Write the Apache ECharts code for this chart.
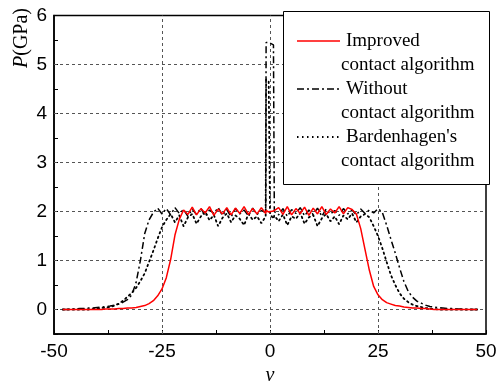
<!DOCTYPE html>
<html>
<head>
<meta charset="utf-8">
<script src="https://cdn.jsdelivr.net/npm/echarts@6/dist/echarts.min.js"></script>
<style>html,body{margin:0;padding:0;background:#fff}#c{width:496px;height:381px}</style>
</head>
<body>
<div id="c"></div>
<script>
// shared positions along v
const X = [-48,-47,-46,-45,-44,-43,-42,-41,-40,-39,-38,-37,-36,-35,-34,-33,-32,-31,
  -30,-29,-28,-27,-26,-25,-24,-23,-22,-21,-20,
  -19,-18,-17,-16,-15,-14,-13,-12,-11,-10,-9,-8,-7,-6,-5,-4,-3,-2,
  -1,-0.9,-0.3,0,0.8,1,
  2,3,4,5,6,7,8,9,10,11,12,13,14,15,16,17,18,19,
  20,21,22,23,24,25,26,27,28,29,30,31,32,33,34,35,36,37,
  38,39,40,41,42,43,44,45,46,47,48];

const improved = [0,0,0,0,0,0,0,0,0,0,0.01,0.01,0.01,0.02,0.02,0.03,0.03,0.04,
  0.06,0.08,0.12,0.18,0.28,0.42,0.65,1.02,1.52,1.84,2.03,
  1.94,2.09,1.93,2.06,1.97,2.1,1.92,2.05,1.95,2.08,1.93,2.07,1.96,2.1,1.94,2.06,1.95,2.08,
  1.96,2.02,1.99,2.0,2.01,1.97,
  2.08,1.94,2.1,1.93,2.06,1.96,2.09,1.92,2.07,1.95,2.1,1.94,2.05,1.97,2.1,1.95,2.08,2.04,
  1.95,1.65,1.22,0.8,0.47,0.3,0.2,0.14,0.11,0.08,0.07,0.05,0.04,0.03,0.03,0.02,0.02,0.01,
  0,0,0,0,0,0,0,0,0,0,0];

const without = [0,0,0.01,0.01,0.02,0.02,0.03,0.03,0.04,0.05,0.06,0.07,0.09,0.11,0.15,0.2,0.3,0.55,
  1.0,1.55,1.83,1.98,2.07,1.95,2.06,1.93,2.08,1.96,2.04,
  1.9,2.05,1.94,2.07,1.9,2.03,1.96,2.08,1.92,2.04,1.89,2.06,1.95,2.03,1.91,2.07,1.94,2.02,
  1.98,5.45,5.45,5.42,5.4,2.0,
  1.93,2.06,1.9,2.04,1.96,2.08,1.91,2.03,1.94,2.07,1.9,2.05,1.95,2.02,1.92,2.06,1.95,2.03,
  1.93,2.05,1.96,2.03,1.97,2.06,1.98,1.72,1.43,1.15,0.85,0.57,0.37,0.25,0.17,0.13,0.09,0.06,
  0.05,0.04,0.03,0.02,0.02,0.01,0.01,0,0,0,0];

const bardenhagen = [0,0,0,0,0,0,0,0.01,0.02,0.03,0.04,0.05,0.08,0.12,0.18,0.26,0.34,0.44,
  0.58,0.74,0.97,1.2,1.45,1.68,1.83,1.95,1.78,1.92,1.7,
  1.88,1.95,1.75,1.9,2.0,1.82,1.93,1.7,1.87,1.96,1.78,1.92,1.85,1.72,1.95,1.83,1.9,1.76,
  1.9,4.7,4.65,1.95,1.85,1.92,
  1.8,1.94,1.72,1.9,1.85,1.97,1.75,1.88,1.93,1.7,1.86,1.95,1.8,1.9,1.74,1.92,1.84,1.96,
  1.78,1.9,1.95,1.88,1.7,1.5,1.25,0.97,0.7,0.5,0.33,0.22,0.15,0.1,0.07,0.05,0.03,0.02,
  0.01,0,0,0,0,0,0,0,0,0,0];

const xTickLabels = [-50,-25,0,25,50];
const yTickLabels = [0,1,2,3,4,5,6];
const gridY = [0,1,2,3,4,5];
const gridX = [-25,0,25];
const legendLines = [['Improved','contact algorithm'],['Without','contact algorithm'],["Bardenhagen's",'contact algorithm']];

function pairs(ys){ return X.map((x,i)=>[x, ys[i]]); }

const chart = echarts.init(document.getElementById('c'), null, {renderer:'canvas'});
const sans = 'Liberation Sans';
const serif = 'Liberation Serif';

const markData = gridY.map(v=>({yAxis:v})).concat(gridX.map(v=>({xAxis:v})));
const LZ = 100;
function legText(x, y, t){
  return {type:'text',x:x,y:y,z:LZ+2,style:{text:t,font:'19px '+serif,fill:'#000',verticalAlign:'middle'}};
}

chart.setOption({
  animation:false,
  backgroundColor:'#fff',
  grid:{left:54,right:10,top:15.5,bottom:47,containLabel:false,outerBoundsMode:'none',
    show:true,borderColor:'#000',borderWidth:1.5,backgroundColor:'transparent'},
  xAxis:{type:'value',min:-50,max:50,interval:12.5,
    name:'v',nameLocation:'middle',nameGap:30,
    nameTextStyle:{fontFamily:serif,fontStyle:'italic',fontSize:20,color:'#000'},
    axisLine:{onZero:false,lineStyle:{color:'#000',width:1.5}},
    axisTick:{inside:true,length:4,lineStyle:{color:'#000',width:1}},
    axisLabel:{fontFamily:sans,fontSize:19,color:'#000',margin:8,
      formatter:v=> xTickLabels.indexOf(v)>=0 ? String(v) : ''},
    splitLine:{show:false}},
  yAxis:{type:'value',min:-0.5,max:6,interval:0.5,
    axisLine:{onZero:false,lineStyle:{color:'#000',width:1.5}},
    axisTick:{inside:true,length:4,lineStyle:{color:'#000',width:1}},
    axisLabel:{fontFamily:sans,fontSize:19,color:'#000',margin:7,
      formatter:v=> yTickLabels.indexOf(v)>=0 ? String(v) : ''},
    splitLine:{show:false}},
  series:[
    {type:'line',name:"Bardenhagen's contact algorithm",data:pairs(bardenhagen),showSymbol:false,z:2,
      lineStyle:{color:'#000',width:1.8,type:[1.5,3.5],cap:'round'},
      markLine:{silent:true,symbol:'none',z:1,label:{show:false},
        lineStyle:{color:'#555',width:1,type:[3,3]},data:markData}},
    {type:'line',name:'Without contact algorithm',data:pairs(without),showSymbol:false,z:2,
      lineStyle:{color:'#000',width:1.5,type:[7,3,2,3]}},
    {type:'line',name:'Improved contact algorithm',data:pairs(improved),showSymbol:false,z:3,
      lineStyle:{color:'#ff0000',width:1.5}}
  ],
  graphic:[
    {type:'text',x:22,y:38,rotation:Math.PI/2,z:10,
      style:{text:'{i|P}(GPa)',font:'20px '+serif,fill:'#000',align:'center',verticalAlign:'middle',
        rich:{i:{fontStyle:'italic',fontFamily:serif,fontSize:20}}}},
    {type:'rect',z:LZ,shape:{x:283.5,y:11.5,width:206,height:173},style:{fill:'#fff',stroke:'#000',lineWidth:1}},
    {type:'line',z:LZ+1,shape:{x1:297,y1:41,x2:340,y2:41},style:{stroke:'#ff0000',lineWidth:1.5}},
    {type:'line',z:LZ+1,shape:{x1:297,y1:89,x2:340,y2:89},style:{stroke:'#000',lineWidth:1.5,lineDash:[7,3,2,3]}},
    {type:'line',z:LZ+1,shape:{x1:297,y1:137,x2:340,y2:137},style:{stroke:'#000',lineWidth:1.8,lineDash:[1.5,3.5]}},
    legText(346,41,legendLines[0][0]),
    legText(341,65,legendLines[0][1]),
    legText(346,89,legendLines[1][0]),
    legText(341,113,legendLines[1][1]),
    legText(346,137,legendLines[2][0]),
    legText(341,161,legendLines[2][1])
  ]
});
</script>
</body>
</html>
